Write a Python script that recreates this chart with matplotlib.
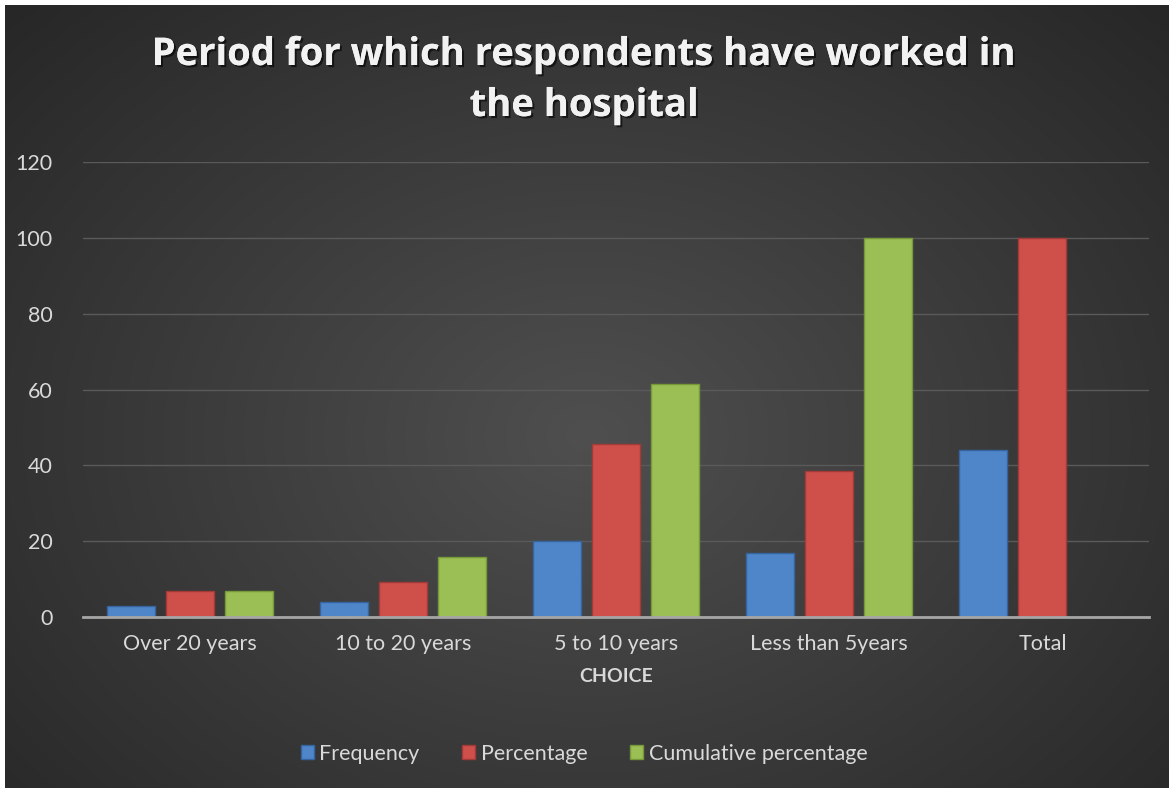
import matplotlib
matplotlib.use('Agg')
from matplotlib import pyplot as plt
import matplotlib.patheffects as pe
import numpy as np

categories = ['Over 20 years', '10 to 20 years', '5 to 10 years', 'Less than 5years', 'Total']
frequency = [3, 4, 20, 17, 44]
percentage = [6.8, 9.1, 45.5, 38.6, 100]
cumulative = [6.8, 15.9, 61.4, 100, np.nan]
series_names = ['Frequency', 'Percentage', 'Cumulative percentage']
colors = ['#4f86c9', '#cf4f4b', '#9bbf54']
edges = ['#35649e', '#a23a37', '#769a3a']

plt.rcParams['font.family'] = ['Lato', 'DejaVu Sans']
txt = '#d9d9d9'

fig = plt.figure(figsize=(11.69, 7.88), dpi=100, facecolor='white')

# dark radial background
bg = fig.add_axes([5 / 1169, 0, 1 - 5 / 1169, 1 - 5 / 788])
yy, xx = np.mgrid[0:1:300j, 0:1:400j]
r = np.sqrt(((xx - 0.5) / 0.75) ** 2 + ((yy - 0.55) / 0.85) ** 2)
shade = np.clip(0.31 - 0.17 * r, 0.14, 0.31)
bg.imshow(np.dstack([shade] * 3), aspect='auto', extent=[0, 1, 0, 1])
bg.axis('off')

ax = fig.add_axes([83 / 1169, 1 - 617 / 788, 1066 / 1169, 455 / 788])
ax.set_facecolor('none')
x = np.arange(len(categories))
w = 0.225
step = 0.277
for i, (vals, name) in enumerate(zip([frequency, percentage, cumulative], series_names)):
    ax.bar(x + (i - 1) * step, vals, w, color=colors[i], edgecolor=edges[i],
           linewidth=1, label=name, zorder=3)

ax.set_xlim(-0.5, len(categories) - 0.5)
ax.set_ylim(0, 120)
ax.set_yticks(np.arange(0, 121, 20))
ax.set_xticks(x)
ax.set_xticklabels(categories)
ax.grid(axis='y', color='#5a5a5a', linewidth=1, zorder=0)
for s in ['top', 'right', 'left']:
    ax.spines[s].set_visible(False)
ax.spines['bottom'].set_color('#a6a6a6')
ax.spines['bottom'].set_linewidth(2)
ax.spines['bottom'].set_zorder(4)
ax.tick_params(axis='both', length=0, colors=txt, labelsize=15.5)
ax.tick_params(axis='y', pad=22)
ax.tick_params(axis='x', pad=12)
ax.set_xlabel('CHOICE', color=txt, fontsize=14, fontweight='bold', labelpad=10)

shadow = [pe.withSimplePatchShadow(offset=(1.5, -1.5), shadow_rgbFace='black', alpha=0.6), pe.Normal()]
for yp, line in [(55, 'Period for which respondents have worked in'), (106, 'the hospital')]:
    fig.text(0.5, 1 - yp / 788, line, ha='center', va='center', color='#f2f2f2',
             fontsize=27.5, fontweight='bold', family=['Open Sans', 'DejaVu Sans'],
             path_effects=shadow)

leg = ax.legend(loc='center', bbox_to_anchor=(0.47, -0.3), ncol=3, frameon=False,
                fontsize=15.5, handlelength=0.6, handleheight=0.6, handletextpad=0.25,
                columnspacing=2.0)
for t in leg.get_texts():
    t.set_color(txt)

fig.savefig('out.png', dpi=100, facecolor='white')
